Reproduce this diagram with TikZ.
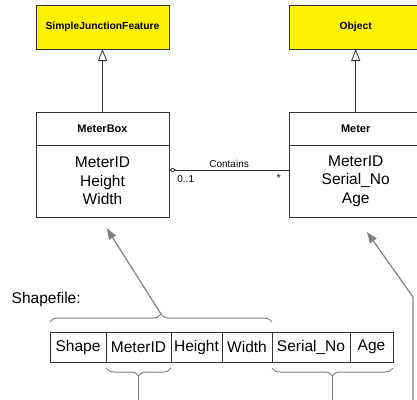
\documentclass[tikz,border=0pt]{standalone}
\usepackage{fontspec}
\setmainfont{Liberation Sans}
\usetikzlibrary{arrows.meta,positioning,calc,decorations.pathreplacing}

\begin{document}
\begin{tikzpicture}[
  x=1pt, y=-1pt, line width=0.8pt,
  font=\fontsize{15.5}{18.5}\selectfont,
  cls/.style={draw=black!80, minimum width=133pt, inner sep=0pt, outer sep=0pt},
  super/.style={cls, fill=yellow, minimum height=44pt,
                font=\fontsize{10.3}{12}\selectfont\bfseries},
  head/.style={cls, minimum height=33pt, font=\fontsize{11}{12}\selectfont\bfseries},
  attr/.style={cls, minimum height=72pt, align=center},
  isa/.style={-{Triangle[open, fill=white, length=12pt, width=9pt]}, draw=black!80},
  assoc/.style={{Diamond[open, fill=white, length=7pt, width=4.5pt]}-, draw=black!80},
  lbl/.style={font=\fontsize{10}{12}\selectfont, inner sep=2pt},
  cell/.style={draw=black!80, minimum height=30pt, inner sep=0pt, outer sep=0pt},
  ref/.style={-{Triangle[length=11pt, width=8pt]}, gray, line width=1.2pt},
  brc/.style={gray, line width=1pt, decorate, decoration={brace, amplitude=8pt}}
]
  \useasboundingbox (0,0) rectangle (417,399);
  % classes
  \node[super] (sjf) at (102.5,27) {SimpleJunctionFeature};
  \node[super] (obj) at (355.7,27) {Object};
  \node[head] (mbHead) at (102.5,128.5) {MeterBox};
  \node[attr, below=0pt of mbHead] (mbAttr) {MeterID\\Height\\Width};
  \node[head] (mHead) at (355.7,128.5) {Meter};
  \node[attr, below=0pt of mHead] (mAttr) {MeterID\\Serial\_No\\Age};
  \draw[isa] (mbHead) -- (sjf);
  \draw[isa] (mHead) -- (obj);
  % association
  \draw[assoc] ($(mbAttr.north east)+(0,25)$) coordinate (aL)
    -- node[lbl, above] (cont) {Contains} ($(mAttr.north west)+(0,25)$) coordinate (aR);
  \node[lbl, anchor=north west] (mlA) at ($(aL)+(6,3)$) {0..1};
  \node[lbl, anchor=north east] (mlB) at ($(aR)+(-6,2)$) {*};
  % shapefile table
  \node[anchor=base west] (shp) at (8,303.3) {Shapefile:};
  \node[cell, minimum width=56pt, anchor=west] (cShape) at (50,347) {Shape};
  \node[cell, minimum width=65pt, right=0pt of cShape] (cMeterID) {MeterID};
  \node[cell, minimum width=51pt, right=0pt of cMeterID] (cHeight) {Height};
  \node[cell, minimum width=50pt, right=0pt of cHeight] (cWidth) {Width};
  \node[cell, minimum width=78pt, right=0pt of cWidth] (cSerial) {Serial\_No};
  \node[cell, minimum width=43pt, right=0pt of cSerial] (cAge) {Age};
  % braces
  \draw[brc] ([yshift=10pt]cShape.north west) -- ([yshift=10pt]cWidth.north east);
  \draw[brc] ([yshift=-6pt]cMeterID.south east) -- ([yshift=-6pt]cMeterID.south west);
  \draw[brc] ([yshift=-6pt]cAge.south east) -- ([yshift=-6pt]cSerial.south west);
  \coordinate (tipA) at ($(cShape.north west)!0.5!(cWidth.north east)+(0,-18)$);
  \coordinate (tipB) at ($(cMeterID.south west)!0.5!(cMeterID.south east)+(0,14)$);
  \coordinate (tipC) at ($(cSerial.south west)!0.5!(cAge.south east)+(0,14)$);
  \path (tipB) ++(0,30) coordinate (outB);
  \path (tipC) ++(0,30) coordinate (outC);
  \coordinate (outR) at (413,402);
  \coordinate (bendR) at (413,297);
  \coordinate (endMB) at ($(mbAttr.south)+(4.2,11.3)$);
  \coordinate (endM) at ($(mAttr.south)+(11.3,15)$);
  % mappings
  \draw[ref] (tipA) -- (endMB);
  \draw[ref] (outR) -- (bendR) -- (endM);
  \draw[gray, line width=1.2pt] (tipB) -- (outB);
  \draw[gray, line width=1.2pt] (tipC) -- (outC);
\end{tikzpicture}
\end{document}
